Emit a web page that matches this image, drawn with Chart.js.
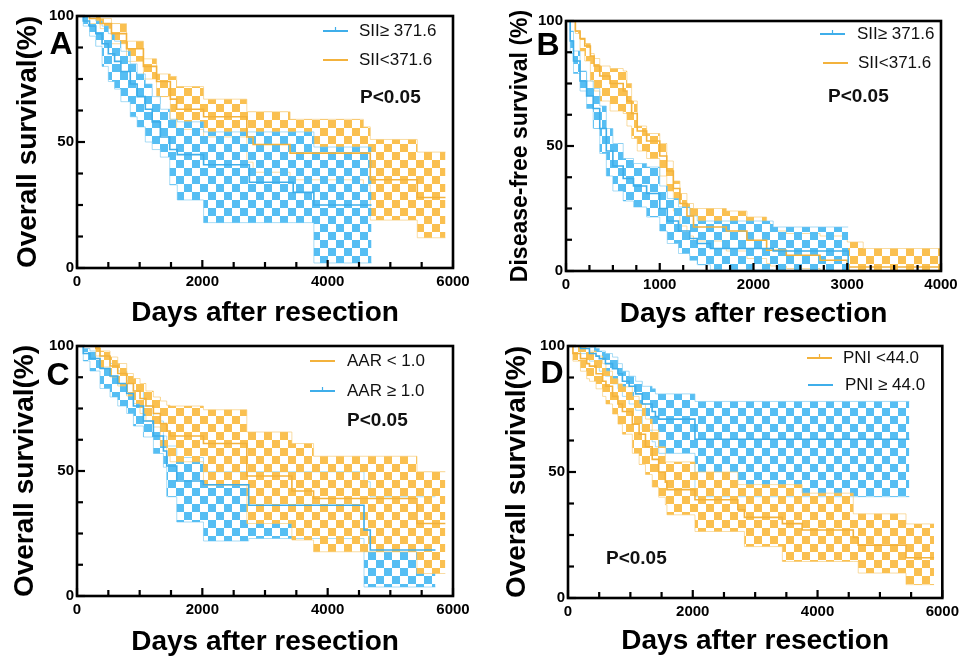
<!DOCTYPE html>
<html>
<head>
<meta charset="utf-8">
<script src="https://cdn.jsdelivr.net/npm/chart.js@4.4.1/dist/chart.umd.min.js"></script>
<style>
  body { margin: 0; background: #fff; }
  #wrap { position: relative; width: 964px; height: 656px; }
  canvas { position: absolute; }
</style>
</head>
<body>
<div id="wrap">
  <canvas id="cA" width="482" height="328" style="left:0;top:0"></canvas>
  <canvas id="cB" width="482" height="328" style="left:482px;top:0"></canvas>
  <canvas id="cC" width="482" height="328" style="left:0;top:328px"></canvas>
  <canvas id="cD" width="482" height="328" style="left:482px;top:328px"></canvas>
</div>
<script>
//////////////// DATA /////////////////////////////////
// tick labels
var xLabels6000 = [0, 2000, 4000, 6000];
var xLabels4000 = [0, 1000, 2000, 3000, 4000];
var yLabels = [0, 50, 100];

// A - overall survival, SII >= 371.6 (blue)
var A_hi_t  = [0, 100, 200, 300, 400, 500, 600, 700, 850, 960, 1090, 1200, 1330, 1480, 1600, 2020, 2750, 3450, 3780, 4700];
var A_hi_s  = [100, 98, 96, 93, 89, 85, 82, 78, 73, 68, 63, 58, 52, 47, 45, 41, 34, 30, 25, 25];
var A_hi_up = [100, 100, 99, 98, 96, 93, 90, 86, 81, 77, 73, 68, 63, 59, 58, 54, 54, 54, 48, 48];
var A_hi_lo = [100, 96, 92, 88, 80, 74, 71, 66, 60, 56, 50, 47, 44, 33, 27, 18, 18, 18, 2, 2];
// A - overall survival, SII < 371.6 (orange)
var A_lo_t  = [0, 200, 370, 550, 790, 1060, 1270, 1490, 1590, 2020, 2710, 2810, 3400, 4570, 4680, 5430, 5880];
var A_lo_s  = [100, 99, 97, 93, 87, 80, 74, 67, 63, 60, 52, 49, 45.6, 45.6, 35, 28, 28];
var A_lo_up = [100, 100, 99, 97, 90, 83, 77, 76, 72, 67, 62, 62, 59, 56, 51, 46, 46];
var A_lo_lo = [100, 97, 95, 89, 82, 75, 68, 59, 55, 52, 42, 38, 35, 33, 19, 12, 12];

// B - disease-free survival, SII >= 371.6 (blue)
var B_hi_t  = [0, 45, 80, 150, 220, 290, 360, 430, 500, 610, 720, 860, 1000, 1080, 1200, 1320, 1400, 1540, 2210, 3010];
var B_hi_s  = [100, 92, 84, 76, 70, 65, 57, 48, 42, 37, 34, 31, 25, 20, 16, 13, 11, 9, 8, 0];
var B_hi_up = [100, 96, 88, 80, 76, 73, 66, 57, 51, 45, 43, 41.6, 34, 29, 25.6, 22, 20, 20, 17.6, 17.6];
var B_hi_lo = [100, 87, 79, 72, 65, 57, 47, 38, 32, 28, 25.6, 21.6, 16, 11, 7, 4.3, 2.5, 0.5, 0, 0];
// B - disease-free survival, SII < 371.6 (orange)
var B_lo_t  = [0, 100, 150, 200, 260, 300, 360, 470, 610, 650, 700, 760, 860, 1000, 1075, 1145, 1215, 1290, 1360, 1710, 1930, 2140, 2180, 2350, 2710, 3000, 3170, 4000];
var B_lo_s  = [100, 96, 93, 90, 86, 82, 78, 75, 72, 68, 63, 56, 52, 46, 40, 33, 27, 22, 17.6, 16, 12.3, 8.3, 8.3, 6.3, 4.3, 1.6, 1.6, 1.6];
var B_lo_up = [100, 96, 93, 91, 87, 85, 82, 81, 80, 75, 68, 58, 55, 51, 44, 36, 31, 27, 25, 24, 21.6, 19, 16, 15, 14, 11.6, 9, 9];
var B_lo_lo = [100, 95, 88, 84, 76, 72, 68, 64, 63, 58, 53, 48, 45, 38, 32, 24, 18, 14, 12, 8, 5, 3, 2, 1, 0, 0, 0, 0];

// C - overall survival, AAR < 1.0 (orange)
var C_lo_t  = [0, 300, 367, 527, 650, 793, 900, 1006, 1100, 1219, 1330, 1432, 1485, 2018, 2710, 3429, 3775, 5425, 5878];
var C_lo_s  = [100, 99, 96, 92, 89, 85, 82, 79, 76, 73, 69, 66, 64, 61, 48, 42, 39, 29, 29];
var C_lo_up = [100, 100, 98, 95.6, 93, 89, 87, 85, 82, 79.6, 78, 76.3, 76, 74.5, 65.6, 61, 55.9, 49.7, 49.7];
var C_lo_lo = [100, 96, 91.6, 87.6, 84, 80, 77, 73, 70, 67.6, 60, 56, 53.7, 44.3, 29, 22.4, 17.7, 9, 9];
// C - overall survival, AAR >= 1.0 (blue)
var C_hi_t  = [0, 100, 207, 367, 527, 650, 793, 900, 1060, 1219, 1379, 1432, 1592, 2018, 2740, 3429, 4580, 4680, 5720];
var C_hi_s  = [100, 97, 95, 91, 88, 85, 81, 76, 70, 64, 58, 52, 46, 44.5, 36.3, 36.3, 26.4, 18.4, 18.4];
var C_hi_up = [100, 99, 98, 96, 93, 90, 86, 82, 76, 70, 64, 60, 55.4, 49.7, 49.7, 49.7, 45.7, 39.7, 39.7];
var C_hi_lo = [100, 94, 90, 83, 79.6, 76, 73, 68, 63.6, 57, 51.5, 39.7, 29.6, 22, 23, 23, 3.6, 3.6, 3.6];

// D - overall survival, PNI < 44.0 (orange)
var D_lo_t  = [0, 79, 200, 300, 344, 450, 555, 608, 714, 800, 872, 1031, 1140, 1242, 1350, 1454, 1560, 1586, 2035, 2722, 2828, 3436, 3753, 4573, 4652, 5418, 5868];
var D_lo_s  = [100, 97, 95, 93, 92, 89, 86, 84, 80, 77, 74, 69, 65, 60, 55, 50, 46, 43, 39, 35, 32, 29.5, 27, 24, 21, 16, 16];
var D_lo_up = [100, 100, 100, 99, 98, 96, 93, 90, 87, 85, 83.8, 80, 77, 71, 66.6, 60, 54, 54, 50, 45, 45, 45, 41.6, 33.4, 33.4, 29.4, 29.4];
var D_lo_lo = [100, 94, 90, 87, 86, 83, 80, 77, 73, 69, 65, 57.4, 53, 49, 44, 40, 37, 33, 26.4, 26.4, 20.4, 14.5, 14.5, 14.5, 9.9, 5.3, 5.3];
// D - overall survival, PNI >= 44.0 (blue)
var D_hi_t  = [0, 200, 344, 449, 502, 600, 714, 800, 872, 980, 1084, 1190, 1348, 1401, 1454, 2035, 5471];
var D_hi_s  = [100, 99, 97, 96, 95, 93, 91, 89, 86, 84, 81, 77, 74, 72, 71, 63, 63];
var D_hi_up = [100, 100, 99.5, 99, 98, 97, 95.6, 93, 90, 88, 86, 84, 83, 81, 81, 78, 78];
var D_hi_lo = [100, 97, 94, 92, 90, 88, 85, 83, 80, 77, 74.5, 66.6, 62, 60, 57.4, 40.2, 40.2];

//////////////// STYLE /////////////////////////////////
var FONT = '"Liberation Sans", Arial, Helvetica, sans-serif';
var BLUE = '#56BEF3', BLUE_LINE = '#3FAEEA', BLUE_EDGE = 'rgba(120,200,240,0.8)';
var ORANGE = '#FAC050', ORANGE_LINE = '#F3B23C', ORANGE_EDGE = 'rgba(245,200,110,0.8)';

function pts(t, v) {
  return t.map(function (x, i) { return {x: x, y: v[i]}; });
}

// checkerboard fill like the CI shading in the original
function checker(ctx, color) {
  var c = document.createElement('canvas');
  c.width = 16; c.height = 16;
  var g = c.getContext('2d');
  g.fillStyle = color;
  g.fillRect(0, 0, 8, 8);
  g.fillRect(8, 8, 8, 8);
  return ctx.createPattern(c, 'repeat');
}

function group(ctx, t, s, up, lo, col, lineCol, edgeCol, bandOrder) {
  var pat = checker(ctx, col);
  return [
    {data: pts(t, up), stepped: 'before', borderColor: edgeCol, borderWidth: 0.8, pointRadius: 0,
     fill: '+1', backgroundColor: pat, order: bandOrder},
    {data: pts(t, lo), stepped: 'before', borderColor: edgeCol, borderWidth: 0.8, pointRadius: 0,
     fill: false, order: bandOrder},
    {data: pts(t, s), stepped: 'before', borderColor: lineCol, borderWidth: 1.6, pointRadius: 0,
     fill: false, order: 0}
  ];
}

//////////////// FRAME, TICKS, LEGEND /////////////////////////////////
var decor = {
  id: 'decor',
  afterDraw: function (chart, args, o) {
    var ctx = chart.ctx, a = chart.chartArea, x = chart.scales.x, y = chart.scales.y;
    var v, px, py, len;
    ctx.save();
    ctx.strokeStyle = '#000';
    ctx.lineWidth = 2.2;
    // inward tick marks
    for (v = x.min; v <= x.max; v += o.xStep) {
      px = x.getPixelForValue(v);
      len = (v % o.xBig === 0) ? 8 : 6;
      ctx.beginPath(); ctx.moveTo(px, a.bottom); ctx.lineTo(px, a.bottom - len); ctx.stroke();
    }
    for (v = y.min; v <= y.max; v += 12.5) {
      py = y.getPixelForValue(v);
      len = (v % 50 === 0) ? 8 : 6;
      ctx.beginPath(); ctx.moveTo(a.left, py); ctx.lineTo(a.left + len, py); ctx.stroke();
    }
    ctx.lineWidth = 2.6;
    ctx.strokeRect(a.left, a.top, a.right - a.left, a.bottom - a.top);

    // panel letter
    ctx.fillStyle = '#000';
    ctx.font = 'bold 32px ' + FONT;
    ctx.textAlign = 'center';
    ctx.textBaseline = 'middle';
    ctx.fillText(o.letter, o.letterX, o.letterY);

    // legend
    ctx.textAlign = 'left';
    ctx.font = '17px ' + FONT;
    o.legend.forEach(function (it) {
      ctx.strokeStyle = it.color;
      ctx.lineWidth = 2;
      ctx.beginPath(); ctx.moveTo(it.x, it.y); ctx.lineTo(it.x + 25, it.y); ctx.stroke();
      if (it.tick) {
        ctx.lineWidth = 1.2;
        ctx.beginPath(); ctx.moveTo(it.x + 12.5, it.y - 4); ctx.lineTo(it.x + 12.5, it.y); ctx.stroke();
      }
      ctx.fillStyle = '#111';
      ctx.fillText(it.text, it.tx, it.y);
    });
    ctx.font = 'bold 19px ' + FONT;
    ctx.fillText('P<0.05', o.pX, o.pY);
    ctx.restore();
  }
};

function makePanel(id, p) {
  var ctx = document.getElementById(id).getContext('2d');
  var datasets = [];
  // first group listed is drawn on top
  p.groups.forEach(function (g, i) {
    datasets = datasets.concat(group(ctx, g.t, g.s, g.up, g.lo, g.col, g.line, g.edge, i + 1));
  });
  p.decor.xStep = p.xStep;
  p.decor.xBig = p.xLabels[1];
  return new Chart(ctx, {
    type: 'line',
    data: {datasets: datasets},
    plugins: [decor],
    options: {
      responsive: false,
      animation: false,
      devicePixelRatio: 1,
      events: [],
      layout: {padding: {left: 0, top: p.top, right: p.right, bottom: 0}},
      plugins: {
        legend: {display: false},
        tooltip: {enabled: false},
        decor: p.decor
      },
      scales: {
        x: {
          type: 'linear', min: 0, max: p.xMax,
          grid: {display: false, drawTicks: false},
          border: {display: false},
          afterFit: function (s) { s.height = p.xH; },
          ticks: {
            stepSize: p.xStep, autoSkip: false, maxRotation: 0, padding: 5,
            color: '#000', font: {family: FONT, size: 15, weight: 'bold'},
            callback: function (v) { return p.xLabels.indexOf(v) >= 0 ? v : ''; }
          },
          title: {
            display: true, text: 'Days after resection', color: '#000',
            font: {family: FONT, size: 28, weight: 'bold', lineHeight: 1},
            padding: {top: 0, bottom: p.xtPad}
          }
        },
        y: {
          type: 'linear', min: 0, max: 100,
          grid: {display: false, drawTicks: false},
          border: {display: false},
          afterFit: function (s) { s.width = p.yW; },
          ticks: {
            stepSize: 12.5, autoSkip: false, padding: 3,
            color: '#000', font: {family: FONT, size: 15, weight: 'bold'},
            callback: function (v) { return yLabels.indexOf(v) >= 0 ? v : ''; }
          },
          title: {
            display: true, text: p.yTitle, color: '#000',
            font: {family: FONT, size: p.ytSize, weight: 'bold', lineHeight: 1},
            padding: {top: p.ytPad, bottom: 0}
          }
        }
      }
    }
  });
}

//////////////// PANELS /////////////////////////////////
makePanel('cA', {
  top: 16, right: 29, yW: 77, xH: 60, xMax: 6000, xStep: 500, xLabels: xLabels6000,
  yTitle: 'Overall survival(%)', ytSize: 28, ytPad: 14, xtPad: 1,
  groups: [
    {t: A_hi_t, s: A_hi_s, up: A_hi_up, lo: A_hi_lo, col: BLUE, line: BLUE_LINE, edge: BLUE_EDGE},
    {t: A_lo_t, s: A_lo_s, up: A_lo_up, lo: A_lo_lo, col: ORANGE, line: ORANGE_LINE, edge: ORANGE_EDGE}
  ],
  decor: {
    letter: 'A', letterX: 61, letterY: 45,
    legend: [
      {text: 'SII\u2265 371.6', color: BLUE_LINE, tick: true, x: 323, tx: 359, y: 31},
      {text: 'SII<371.6', color: ORANGE_LINE, tick: false, x: 323, tx: 359, y: 60}
    ],
    pX: 360, pY: 98
  }
});

makePanel('cB', {
  top: 21, right: 23, yW: 84, xH: 57, xMax: 4000, xStep: 250, xLabels: xLabels4000,
  yTitle: 'Disease-free survival (%)', ytSize: 23, ytPad: 27, xtPad: 0,
  groups: [
    {t: B_hi_t, s: B_hi_s, up: B_hi_up, lo: B_hi_lo, col: BLUE, line: BLUE_LINE, edge: BLUE_EDGE},
    {t: B_lo_t, s: B_lo_s, up: B_lo_up, lo: B_lo_lo, col: ORANGE, line: ORANGE_LINE, edge: ORANGE_EDGE}
  ],
  decor: {
    letter: 'B', letterX: 66, letterY: 46,
    legend: [
      {text: 'SII\u2265 371.6', color: BLUE_LINE, tick: true, x: 338, tx: 375, y: 34},
      {text: 'SII<371.6', color: ORANGE_LINE, tick: false, x: 341, tx: 376, y: 63}
    ],
    pX: 346, pY: 97
  }
});

makePanel('cC', {
  top: 18, right: 29, yW: 77, xH: 60, xMax: 6000, xStep: 500, xLabels: xLabels6000,
  yTitle: 'Overall survival(%)', ytSize: 28, ytPad: 11, xtPad: 0,
  groups: [
    {t: C_lo_t, s: C_lo_s, up: C_lo_up, lo: C_lo_lo, col: ORANGE, line: ORANGE_LINE, edge: ORANGE_EDGE},
    {t: C_hi_t, s: C_hi_s, up: C_hi_up, lo: C_hi_lo, col: BLUE, line: BLUE_LINE, edge: BLUE_EDGE}
  ],
  decor: {
    letter: 'C', letterX: 58, letterY: 48,
    legend: [
      {text: 'AAR < 1.0', color: ORANGE_LINE, tick: false, x: 310, tx: 347, y: 33},
      {text: 'AAR \u2265 1.0', color: BLUE_LINE, tick: true, x: 310, tx: 347, y: 63}
    ],
    pX: 347, pY: 93
  }
});

makePanel('cD', {
  top: 18, right: 17, yW: 86, xH: 58, xMax: 6000, xStep: 500, xLabels: xLabels6000,
  yTitle: 'Overall survival(%)', ytSize: 28, ytPad: 21, xtPad: 1,
  groups: [
    {t: D_lo_t, s: D_lo_s, up: D_lo_up, lo: D_lo_lo, col: ORANGE, line: ORANGE_LINE, edge: ORANGE_EDGE},
    {t: D_hi_t, s: D_hi_s, up: D_hi_up, lo: D_hi_lo, col: BLUE, line: BLUE_LINE, edge: BLUE_EDGE}
  ],
  decor: {
    letter: 'D', letterX: 70, letterY: 46,
    legend: [
      {text: 'PNI <44.0', color: ORANGE_LINE, tick: true, x: 325, tx: 361, y: 30},
      {text: 'PNI \u2265 44.0', color: BLUE_LINE, tick: false, x: 326, tx: 363, y: 57}
    ],
    pX: 124, pY: 231
  }
});
</script>
</body>
</html>
